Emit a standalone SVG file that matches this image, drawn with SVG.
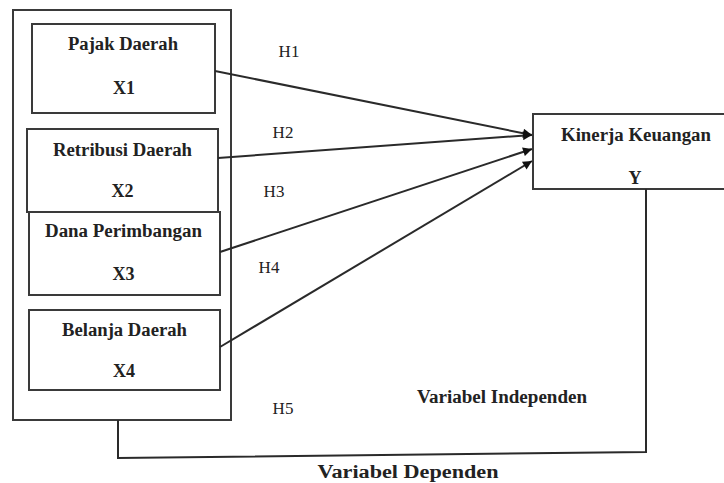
<svg xmlns="http://www.w3.org/2000/svg" width="724" height="483" viewBox="0 0 724 483">
<style>
.box{fill:#fff;stroke:#3a3a3a;stroke-width:2}
.ln{fill:none;stroke:#2a2a2a;stroke-width:2}
.b{font-family:"Liberation Serif",serif;font-weight:bold;font-size:18px;fill:#222;text-anchor:middle}
.h{font-family:"Liberation Serif",serif;font-size:17px;fill:#222;text-anchor:middle}
</style>
<defs>
<marker id="ah" viewBox="0 0 10 10" refX="10" refY="5" markerWidth="11" markerHeight="9" markerUnits="userSpaceOnUse" orient="auto">
<path d="M0,0 L10,5 L0,10 z" fill="#111"/>
</marker>
</defs>
<rect width="724" height="483" fill="#fff"/>
<g id="outer"><rect class="box" x="13" y="10" width="218" height="410"/></g>
<g id="x1"><rect class="box" x="32" y="24" width="183" height="89"/>
<text class="b" x="123" y="50" textLength="110" lengthAdjust="spacingAndGlyphs">Pajak Daerah</text>
<text class="b" x="124" y="94">X1</text></g>
<g id="x2"><rect class="box" x="27" y="129" width="191" height="83"/>
<text class="b" x="122.5" y="156" textLength="139" lengthAdjust="spacingAndGlyphs">Retribusi Daerah</text>
<text class="b" x="122.5" y="197">X2</text></g>
<g id="x3"><rect class="box" x="29" y="212" width="191" height="83"/>
<text class="b" x="123.5" y="237" textLength="157" lengthAdjust="spacingAndGlyphs">Dana Perimbangan</text>
<text class="b" x="123.5" y="280">X3</text></g>
<g id="x4"><rect class="box" x="29" y="310" width="191" height="80"/>
<text class="b" x="124.5" y="336" textLength="125" lengthAdjust="spacingAndGlyphs">Belanja Daerah</text>
<text class="b" x="124" y="377">X4</text></g>
<g id="y"><rect class="box" x="533" y="114" width="200" height="75"/>
<text class="b" x="636" y="141" textLength="150" lengthAdjust="spacingAndGlyphs">Kinerja Keuangan</text>
<text class="b" x="635" y="184">Y</text></g>
<g id="connectors">
<line class="ln" x1="215" y1="71" x2="532" y2="135" marker-end="url(#ah)"/>
<line class="ln" x1="218" y1="158" x2="532" y2="135" marker-end="url(#ah)"/>
<line class="ln" x1="220" y1="252" x2="532" y2="149" marker-end="url(#ah)"/>
<line class="ln" x1="220" y1="347" x2="532" y2="161" marker-end="url(#ah)"/>
<path class="ln" d="M118,420 V458 L646,452 V189" stroke-width="1.6"/>
</g>
<g id="labels">
<text class="h" x="289" y="57">H1</text>
<text class="h" x="283" y="138">H2</text>
<text class="h" x="274" y="197">H3</text>
<text class="h" x="269" y="273">H4</text>
<text class="h" x="283" y="414">H5</text>
<text class="b" x="502" y="403" font-size="19" textLength="170" lengthAdjust="spacingAndGlyphs">Variabel Independen</text>
<text class="b" x="408" y="478" font-size="21" textLength="181" lengthAdjust="spacingAndGlyphs">Variabel Dependen</text>
</g>
</svg>
